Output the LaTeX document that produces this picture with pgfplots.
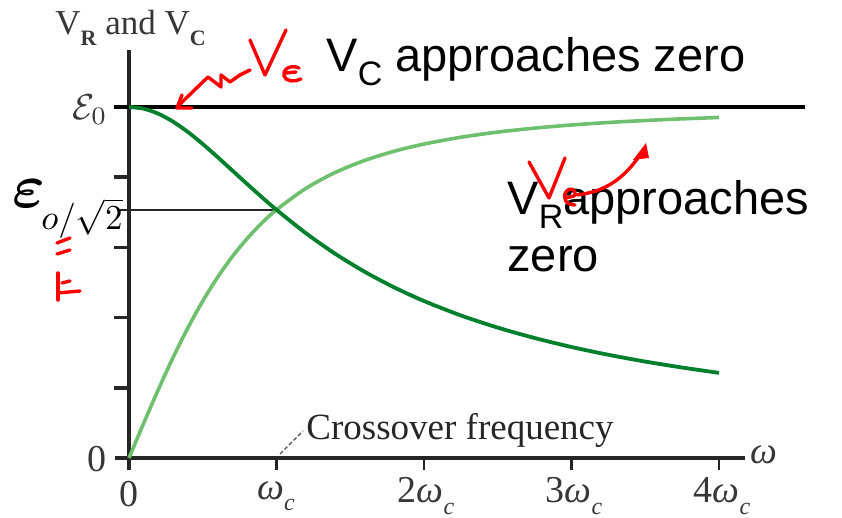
\documentclass[border=0pt]{standalone}
\usepackage{pgfplots}
\pgfplotsset{compat=1.18}
\usepackage{fontspec}
\setmainfont{Liberation Serif}
\newfontfamily\arial{Liberation Sans}
\definecolor{dkgreen}{RGB}{0,128,45}
\definecolor{ltgreen}{RGB}{110,192,110}
\definecolor{lblgray}{RGB}{55,55,55}
\definecolor{hand}{RGB}{255,0,0}
\begin{document}
\begin{tikzpicture}
\begin{axis}[scale only axis, width=421pt, height=259pt,
  xmin=-0.8746, xmax=4.834, ymin=-0.1709, ymax=1.3048,
  hide axis, clip=false]
% axes
\draw[line width=2pt, black!85] (axis cs:0,1.1624) -- (axis cs:0,-0.034);
\draw[line width=1.6pt, black!85] (axis cs:-0.095,0) -- (axis cs:4.176,0);
\pgfplotsinvokeforeach{0.2,0.4,0.6,0.8}{\draw[line width=1.8pt, black!85] (axis cs:-0.1,#1) -- (axis cs:0,#1);}
\pgfplotsinvokeforeach{0,1,2,3,4}{\draw[line width=1.4pt, black!85] (axis cs:#1,0) -- (axis cs:#1,-0.034);}
% reference lines
\draw[line width=1.6pt, black] (axis cs:-0.1,1) -- (axis cs:4.583,1);
\draw[line width=0.9pt, black!85] (axis cs:-0.08,0.707) -- (axis cs:0.98,0.707);
% V_R
\addplot[ltgreen, line width=1.8pt, smooth] coordinates {
(0,0) (0.1,0.0995) (0.2,0.1961) (0.3,0.2873) (0.4,0.3714) (0.5,0.4472)
(0.6,0.5145) (0.7,0.5735) (0.8,0.6247) (0.9,0.6690) (1.0,0.7071)
(1.2,0.7682) (1.4,0.8137) (1.6,0.8480) (1.8,0.8742) (2.0,0.8944)
(2.25,0.9138) (2.5,0.9285) (2.75,0.9398) (3.0,0.9487) (3.25,0.9558)
(3.5,0.9615) (3.75,0.9662) (4.0,0.9701)};
% V_C
\addplot[dkgreen, line width=1.9pt, smooth] coordinates {
(0,1) (0.1,0.9950) (0.2,0.9806) (0.3,0.9578) (0.4,0.9285) (0.5,0.8944)
(0.6,0.8575) (0.7,0.8192) (0.8,0.7809) (0.9,0.7433) (1.0,0.7071)
(1.2,0.6402) (1.4,0.5812) (1.6,0.5300) (1.8,0.4856) (2.0,0.4472)
(2.25,0.4061) (2.5,0.3714) (2.75,0.3418) (3.0,0.3162) (3.25,0.2940)
(3.5,0.2747) (3.75,0.2577) (4.0,0.2425)};
\end{axis}
\begin{scope}[shift={(current axis.north west)}, x=0.5pt, y=-0.5pt]
% printed labels (serif, grey)
\node[anchor=base west, inner sep=0, text=lblgray, font=\fontsize{17.5}{20}\selectfont] at (55,35)
  {V\raisebox{-0.3em}{\fontsize{11}{12}\selectfont\bfseries R} and V\raisebox{-0.3em}{\fontsize{11}{12}\selectfont\bfseries C}};
\node[inner sep=0, text=lblgray] at (90,110) {\scalebox{1.8}{$\mathcal{E}_0$}};
\node[inner sep=0, text=lblgray, font=\fontsize{19}{22}\selectfont] at (97,459) {0};
\node[inner sep=0, text=lblgray, font=\fontsize{19}{22}\selectfont] at (129,494) {0};
\node[inner sep=0, text=lblgray, font=\fontsize{19}{22}\selectfont] at (276,496) {\itshape ω\raisebox{-0.3em}{\fontsize{12}{13}\selectfont c}};
\node[inner sep=0, text=lblgray, font=\fontsize{19}{22}\selectfont] at (426,496) {2\itshape ω\raisebox{-0.3em}{\fontsize{12}{13}\selectfont c}};
\node[inner sep=0, text=lblgray, font=\fontsize{19}{22}\selectfont] at (574,496) {3\itshape ω\raisebox{-0.3em}{\fontsize{12}{13}\selectfont c}};
\node[inner sep=0, text=lblgray, font=\fontsize{19}{22}\selectfont] at (722,496) {4\itshape ω\raisebox{-0.3em}{\fontsize{12}{13}\selectfont c}};
\node[inner sep=0, text=lblgray, font=\fontsize{19}{22}\selectfont] at (764,455) {\itshape ω};
\node[anchor=base west, inner sep=0, text=black!85, font=\fontsize{18.5}{20}\selectfont] at (306,440) {Crossover frequency};
\draw[black!70, line width=0.7pt, dash pattern=on 2pt off 1.2pt] (280,454) -- (303,431);
% epsilon / sqrt 2 label
\node[anchor=base west, inner sep=0] at (12,208) {\scalebox{3.1}{\boldmath$\varepsilon$}};
\node[anchor=base west, inner sep=0] at (41,230) {\scalebox{1.75}{$o/\sqrt{2}$}};
% slide text
\node[anchor=base west, inner sep=0, font=\arial\fontsize{23.5}{28}\selectfont] at (326,72)
  {V\raisebox{-0.28em}{\fontsize{17}{20}\selectfont C} approaches zero};
\node[anchor=base west, inner sep=0, font=\arial\fontsize{23.5}{28}\selectfont] at (507,215)
  {V\raisebox{-0.28em}{\fontsize{17}{20}\selectfont R}approaches};
\node[anchor=base west, inner sep=0, font=\arial\fontsize{23.5}{28}\selectfont] at (507,272) {zero};
% handwritten red annotations
\begin{scope}[hand, line width=1.7pt, line cap=round, line join=round]
\draw (250,40) -- (265,75) -- (286,30);
\draw (299,68) .. controls (290,64) and (282,70) .. (284,76) .. controls (286,82) and (295,82) .. (301,79);
\draw (286,73) -- (296,72);
\draw (250,70) -- (240,75) -- (230,82) -- (221,75) -- (221,87) -- (208,77) -- (177,107);
\draw (182,95) -- (177,108) -- (192,108);
\draw (529,162) -- (549,198) -- (565,158);
\draw (575,205) .. controls (566,205) and (562,198) .. (566,192) .. controls (570,186) and (578,190) .. (574,196) -- (566,198);
\draw (577,195) .. controls (600,192) and (620,184) .. (640,155);
\fill (646,143) -- (633,160) -- (649,158) -- cycle;
\draw (57,243) -- (70,238);
\draw (57,254) -- (70,250);
\draw (58,273) -- (58,300);
\draw (58,293) -- (80,291);
\draw (62,283) -- (70,281);
\end{scope}
\end{scope}
\pgfresetboundingbox
\path (current axis.south west) rectangle (current axis.north east);
\end{tikzpicture}
\end{document}
